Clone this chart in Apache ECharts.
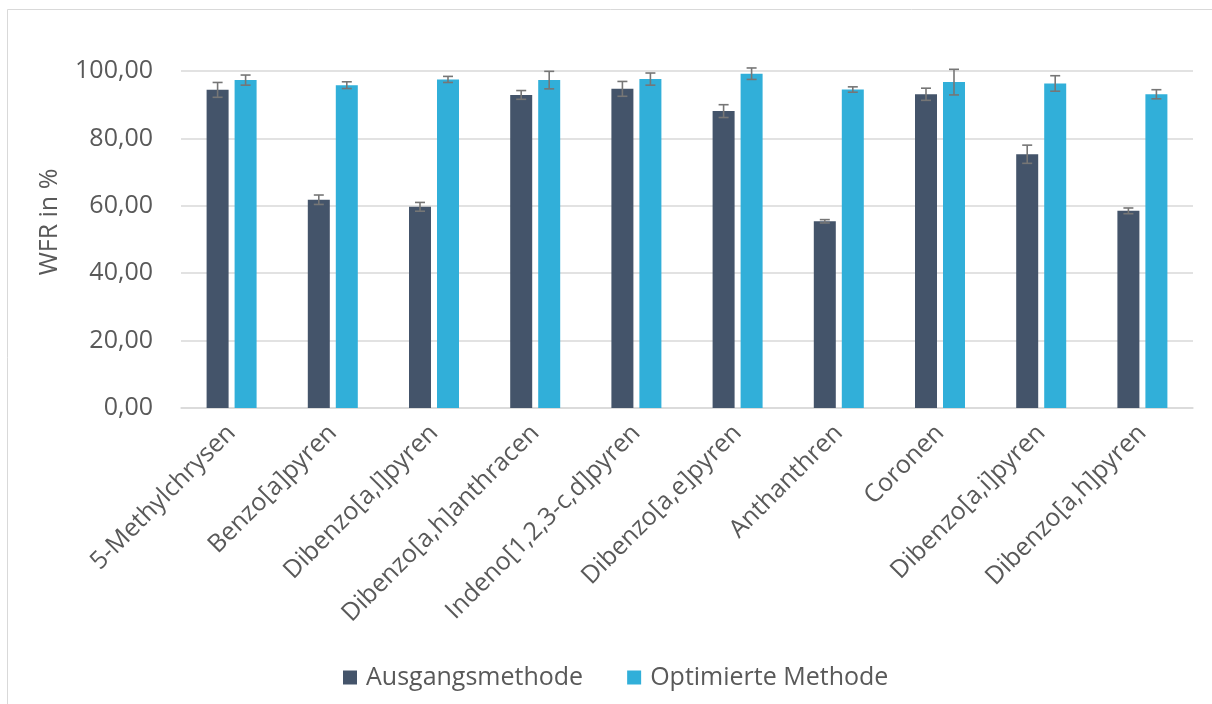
<!DOCTYPE html>
<html>
<head>
<meta charset="utf-8">
<script src="https://cdn.jsdelivr.net/npm/echarts@6/dist/echarts.min.js"></script>
<style>
  html, body { margin: 0; padding: 0; background: #ffffff; }
  #chart { width: 1212px; height: 704px; }
</style>
</head>
<body>
<div id="chart"></div>
<script>
// Recovery rates (WFR) of PAH compounds for both methods, with standard deviations
const categories = [
  '5-Methylchrysen', 'Benzo[a]pyren', 'Dibenzo[a,l]pyren', 'Dibenzo[a,h]anthracen',
  'Indeno[1,2,3-c,d]pyren', 'Dibenzo[a,e]pyren', 'Anthanthren', 'Coronen',
  'Dibenzo[a,i]pyren', 'Dibenzo[a,h]pyren'
];
const seriesNames = ['Ausgangsmethode', 'Optimierte Methode'];
const ausgangValues = [94.4, 61.8, 59.7, 92.9, 94.7, 88.1, 55.4, 93.1, 75.3, 58.5];
const ausgangErrors = [2.2, 1.4, 1.3, 1.3, 2.2, 1.9, 0.5, 1.8, 2.7, 0.85];
const optimiertValues = [97.3, 95.8, 97.5, 97.3, 97.6, 99.2, 94.5, 96.7, 96.3, 93.1];
const optimiertErrors = [1.5, 1.0, 0.9, 2.6, 1.8, 1.7, 0.8, 3.8, 2.3, 1.35];
const yTicks = { min: 0, max: 100, interval: 20 };

const colors = ['#44546A', '#31AFD9'];
const textColor = '#595959';
const fontFamily = '"Open Sans", sans-serif';
const barWidth = 22;
const barGapPx = 6;
const capHalf = 5;

function errorSeries(values, errors, side) {
  const data = values.map((v, i) => [i, v, errors[i]]);
  return {
    type: 'custom',
    silent: true,
    z: 10,
    renderItem: function (params, api) {
      const idx = api.value(0);
      const v = api.value(1);
      const e = api.value(2);
      const shift = side * (barWidth + barGapPx) / 2;
      const top = api.coord([idx, v + e]);
      const bot = api.coord([idx, v - e]);
      const x = top[0] + shift;
      const style = { stroke: '#767676', lineWidth: 1.6 };
      return {
        type: 'group',
        children: [
          { type: 'line', shape: { x1: x, y1: top[1], x2: x, y2: bot[1] }, style: style },
          { type: 'line', shape: { x1: x - capHalf, y1: top[1], x2: x + capHalf, y2: top[1] }, style: style },
          { type: 'line', shape: { x1: x - capHalf, y1: bot[1], x2: x + capHalf, y2: bot[1] }, style: style }
        ]
      };
    },
    data: data
  };
}

const chart = echarts.init(document.getElementById('chart'), null, { renderer: 'canvas' });
chart.setOption({
  animation: false,
  backgroundColor: '#ffffff',
  textStyle: { fontFamily: fontFamily },
  graphic: [
    {
      type: 'rect', silent: true, z: -1,
      shape: { x: 7.5, y: 9.5, width: 1230, height: 720 },
      style: { fill: 'none', stroke: '#D9D9D9', lineWidth: 1 }
    },
    {
      type: 'text', silent: true,
      x: 50, y: 222, rotation: Math.PI / 2,
      style: {
        text: 'WFR in %', fill: textColor, font: '25px ' + fontFamily,
        align: 'center', verticalAlign: 'middle'
      }
    }
  ],
  grid: { left: 181, right: 19, top: 71, bottom: 296, containLabel: false },
  legend: {
    data: seriesNames,
    bottom: 9,
    left: 338,
    itemWidth: 14,
    itemHeight: 14,
    itemGap: 44,
    icon: 'rect',
    textStyle: { color: textColor, fontSize: 25, fontFamily: fontFamily, padding: [0, 0, 0, 4] }
  },
  xAxis: {
    type: 'category',
    data: categories,
    axisLine: { lineStyle: { color: '#D9D9D9', width: 1.5 } },
    axisTick: { show: false },
    axisLabel: {
      rotate: 45, interval: 0, margin: 21,
      color: textColor, fontSize: 25, fontFamily: fontFamily
    }
  },
  yAxis: {
    type: 'value',
    min: yTicks.min, max: yTicks.max, interval: yTicks.interval,
    axisLine: { show: false },
    axisTick: { show: false },
    splitLine: { lineStyle: { color: '#D9D9D9', width: 1.5 } },
    axisLabel: {
      margin: 28, color: textColor, fontSize: 25, fontFamily: fontFamily,
      formatter: v => v.toFixed(2).replace('.', ',')
    }
  },
  series: [
    {
      name: seriesNames[0], type: 'bar', data: ausgangValues,
      barWidth: barWidth, barGap: (barGapPx / barWidth * 100) + '%',
      itemStyle: { color: colors[0] }
    },
    {
      name: seriesNames[1], type: 'bar', data: optimiertValues,
      barWidth: barWidth,
      itemStyle: { color: colors[1] }
    },
    errorSeries(ausgangValues, ausgangErrors, -1),
    errorSeries(optimiertValues, optimiertErrors, 1)
  ]
});
</script>
</body>
</html>
